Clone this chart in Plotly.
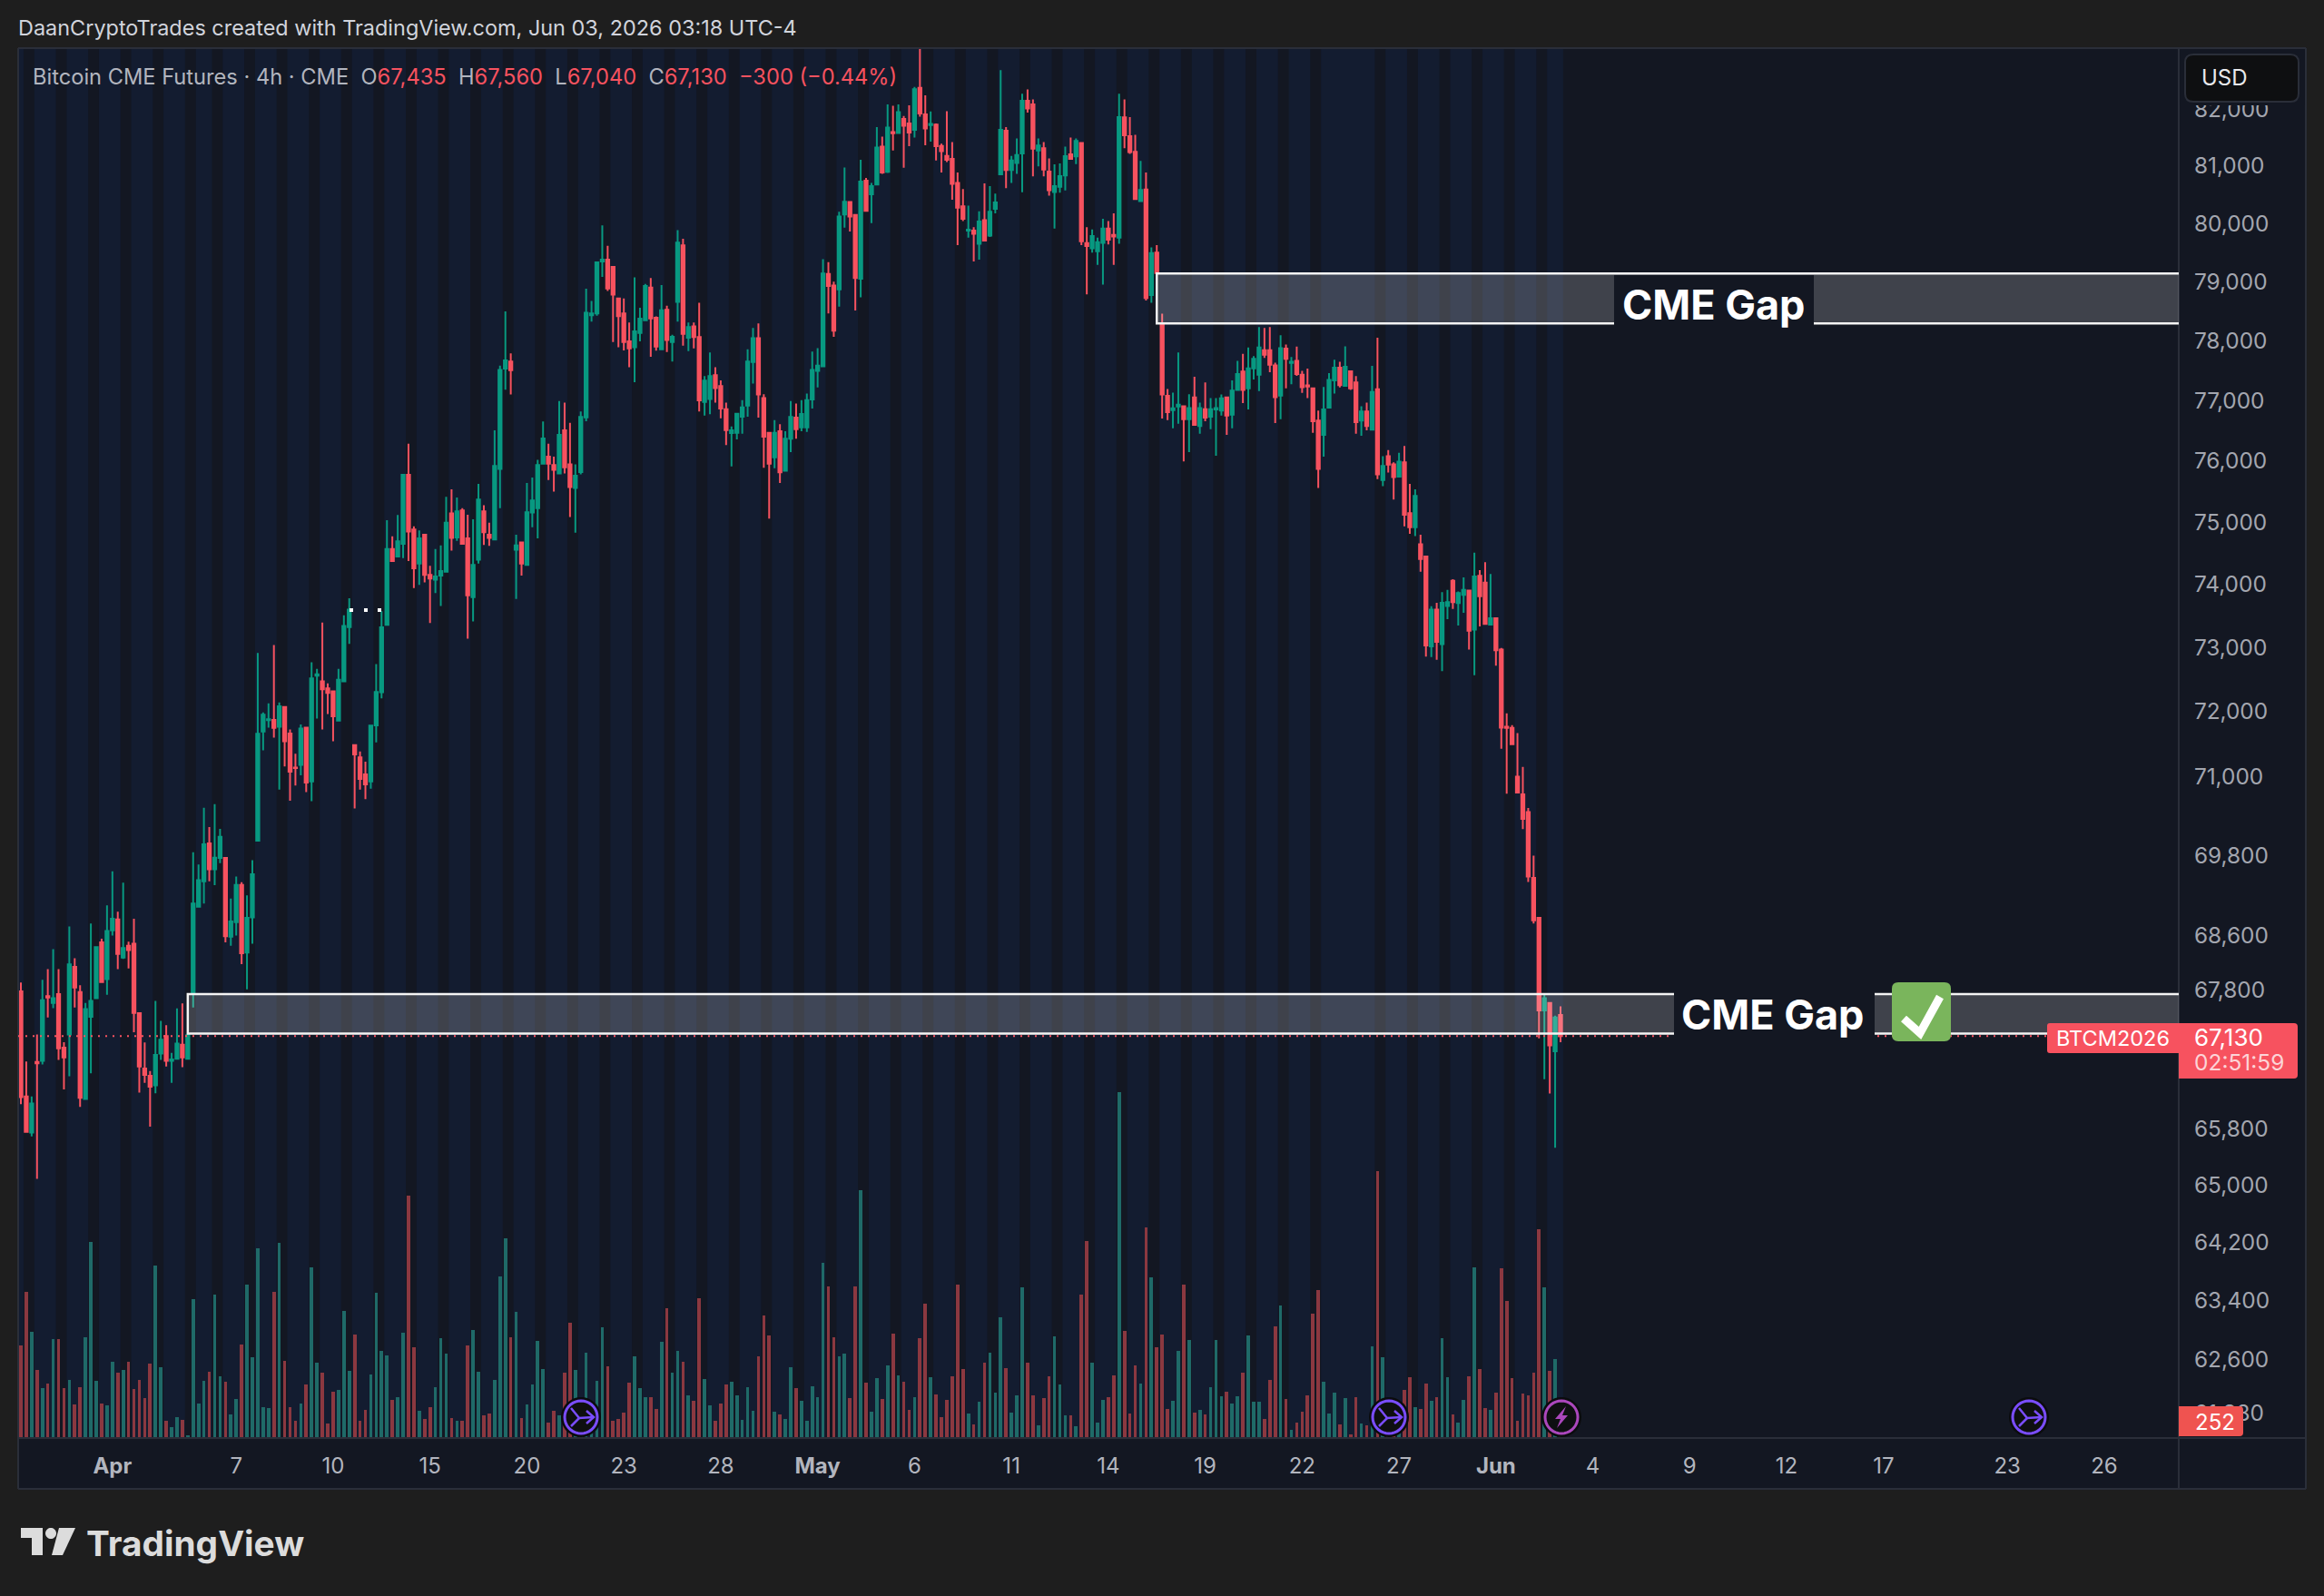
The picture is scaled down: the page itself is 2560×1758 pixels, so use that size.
import math
import plotly.graph_objects as go

# Bitcoin CME futures, 4h bars
opens = [
    67780, 66260, 65745, 66755, 66770, 67710, 67610, 67740, 66960, 67150,
    68140, 67770, 66225, 67410, 67680, 68500, 67960, 68680, 68840, 68275,
    68450, 68480, 67460, 66660, 66555, 66420, 66875, 67130, 66770, 66800,
    67005, 66800, 67740, 69030, 69410, 69980, 69590, 69760, 69760, 68585,
    68800, 69355, 68350, 68870, 70020, 71690, 71865, 71870, 71765, 72070,
    71660, 71135, 71175, 71750, 70920, 72560, 72470, 72360, 72315, 71860,
    72470, 73325, 71480, 71290, 71030, 70920, 71785, 72300, 73360, 74570,
    74450, 74655, 75775, 74885, 74335, 74800, 74155, 74080, 74145, 74205,
    75145, 74755, 75195, 74740, 73800, 74400, 75180, 74800, 74725, 75870,
    77530, 77650, 74560, 74675, 74315, 75160, 75230, 75955, 76070, 75935,
    75795, 76505, 75945, 75560, 75820, 76720, 78430, 78460, 79345, 79375,
    79250, 78715, 78460, 77990, 77890, 78130, 78345, 78900, 78385, 77855,
    78520, 77975, 78655, 79620, 78050, 78240, 78060, 76975, 77025, 77420,
    77240, 76855, 76460, 76465, 76730, 76915, 77640, 78040, 77040, 76465,
    76060, 76490, 75840, 76365, 76715, 76555, 76555, 77015, 77495, 77570,
    79130, 78935, 78870, 80155, 80370, 80145, 79050, 80740, 80505, 80675,
    81335, 80895, 81590, 81575, 81825, 81745, 81630, 82375, 81905, 81715,
    81725, 81350, 81175, 81120, 80700, 80295, 79875, 79875, 79650, 80055,
    79790, 80250, 80850, 81615, 80925, 81050, 81215, 82145, 82080, 81270,
    81310, 80900, 80545, 80635, 80830, 81200, 81165, 81400, 79660, 79570,
    79520, 79665, 79910, 79800, 79755, 81850, 81520, 81245, 80385, 80585,
    78770, 79495, 78290, 77075, 76840, 76900, 76905, 76690, 77050, 76575,
    76855, 76730, 76850, 76830, 77050, 76765, 77175, 77480, 77200, 77535,
    77430, 77840, 77840, 77585, 77080, 77865, 77625, 77660, 77430, 77250,
    77200, 76665, 76430, 76880, 77335, 77545, 77245, 77485, 77300, 76665,
    76815, 76515, 77185, 75690, 76080, 75945, 75745, 75980, 75150, 74920,
    74645, 74450, 73020, 73600, 73055, 73660, 74060, 73705, 73835, 73905,
    73285, 74140, 74030, 73365, 73465, 72970, 71765, 71745, 70995, 70725,
    70455, 69460, 68865, 67500, 67610, 66910, 67435,
]
highs = [
    67910, 66760, 66260, 67150, 67950, 68105, 68400, 68105, 67040, 68735,
    68265, 67870, 67610, 68780, 68430, 68555, 69050, 69560, 68955, 69390,
    68510, 68850, 67475, 67035, 66625, 67640, 67350, 67285, 66885, 67530,
    67605, 67170, 69845, 69660, 70520, 70225, 70575, 70200, 69770, 69150,
    69480, 69395, 69200, 69725, 72915, 71985, 72125, 73040, 72140, 72080,
    71720, 71345, 71800, 71760, 72770, 72665, 73395, 72440, 72320, 72665,
    73510, 73780, 71490, 71380, 71225, 71785, 72740, 73575, 75035, 74775,
    75120, 75780, 76285, 74935, 74870, 74805, 74300, 74570, 74630, 75415,
    75535, 75405, 75230, 75125, 75050, 75625, 75280, 74995, 76505, 77580,
    78495, 77785, 74800, 74680, 75640, 75730, 76020, 76650, 76285, 76070,
    76990, 76965, 76630, 75945, 76815, 78880, 78670, 79340, 79965, 79615,
    79255, 78720, 78715, 78305, 79075, 78555, 78960, 79060, 78410, 78940,
    78590, 78100, 79885, 79735, 78305, 78305, 78640, 77405, 77800, 77555,
    77335, 76965, 76570, 76785, 77005, 77855, 78215, 78290, 77105, 76470,
    76675, 76605, 76490, 76990, 76950, 77005, 77115, 77815, 77875, 79385,
    79335, 79000, 80200, 80970, 80375, 80155, 81105, 80790, 80700, 81680,
    81510, 82080, 82055, 82080, 81875, 82065, 82390, 83075, 82240, 81955,
    81745, 81390, 81960, 81415, 80885, 80595, 80305, 79935, 80210, 80695,
    80645, 80515, 82690, 81680, 81175, 81480, 82270, 82345, 82170, 81480,
    81415, 81130, 81025, 81040, 81335, 81495, 81480, 81405, 79935, 79895,
    79755, 80080, 80040, 80175, 82270, 82170, 81855, 81545, 81085, 80885,
    79585, 79625, 78455, 77190, 77130, 77800, 76915, 77105, 77395, 76965,
    77300, 77040, 77040, 77100, 77055, 77335, 77660, 77780, 77885, 77740,
    78230, 78215, 78230, 77630, 78090, 77935, 77725, 77900, 77495, 77530,
    77205, 76830, 77225, 77455, 77680, 77645, 77905, 77490, 77405, 76905,
    76965, 77575, 78050, 76080, 76180, 75980, 76135, 76245, 75625, 75535,
    74800, 74460, 73655, 73710, 73880, 73915, 74085, 73890, 74115, 73910,
    74510, 74230, 74360, 74170, 73480, 72995, 71970, 71790, 71665, 71145,
    70515, 69795, 68870, 67730, 67620, 67425, 67560,
]
lows = [
    66150, 65745, 65690, 65090, 66720, 67400, 67535, 66785, 66360, 66550,
    67545, 66110, 66220, 66590, 67675, 67910, 67730, 68600, 68105, 68255,
    68115, 67185, 66315, 66455, 65830, 66305, 66785, 66690, 66455, 66795,
    66680, 66800, 67545, 69030, 69075, 69410, 69350, 69680, 68500, 68450,
    68600, 68180, 67810, 68480, 70020, 71400, 71750, 71595, 70795, 71150,
    70625, 70860, 71015, 70760, 70620, 71890, 71720, 71960, 71540, 71860,
    72455, 73060, 70510, 70795, 70650, 70810, 71520, 72205, 73355, 74375,
    74435, 74425, 74375, 73945, 73995, 74035, 73390, 73865, 73660, 74205,
    74545, 74700, 74640, 73140, 73415, 74335, 74635, 74620, 74725, 75230,
    77180, 77100, 73770, 74145, 74315, 74920, 74740, 75955, 75690, 75500,
    75780, 75795, 75085, 74835, 75780, 76655, 78320, 78420, 79080, 78840,
    77975, 77890, 77835, 77555, 77305, 77990, 78345, 77730, 77830, 77845,
    77810, 77650, 78320, 77915, 77825, 77870, 76815, 76750, 76770, 76965,
    76705, 76260, 75910, 76355, 76450, 76730, 77280, 76715, 75890, 75060,
    75880, 75640, 75840, 76145, 76365, 76490, 76480, 76865, 77215, 77570,
    78460, 78065, 78575, 79925, 79860, 78510, 78735, 80215, 80005, 80675,
    80860, 80875, 81270, 81575, 80965, 81345, 81495, 81865, 81360, 81425,
    81095, 80885, 81065, 80410, 79625, 80040, 79755, 79345, 79375, 79690,
    79765, 80175, 80850, 80610, 80700, 80860, 80540, 81935, 80815, 80990,
    80815, 80480, 79910, 80530, 80570, 81105, 81030, 79625, 78785, 79495,
    79285, 78950, 79635, 79285, 79650, 81310, 81210, 80410, 80385, 78680,
    78640, 79140, 76700, 76675, 76540, 76615, 75995, 76145, 76595, 76450,
    76655, 76525, 76085, 76750, 76430, 76540, 77175, 76955, 76850, 77350,
    77155, 77710, 77470, 76625, 76690, 77200, 77270, 77410, 77125, 77040,
    76465, 75560, 76070, 76880, 77115, 77215, 77230, 77175, 76450, 76415,
    76505, 76500, 75705, 75590, 75810, 75370, 75735, 74935, 74815, 74780,
    74205, 72860, 72850, 72810, 72630, 73450, 73610, 73350, 73550, 72970,
    72565, 73335, 73370, 73360, 72715, 71425, 70735, 71480, 70750, 70195,
    69400, 68780, 67095, 66505, 66300, 65530, 67040,
]
closes = [
    66250, 65755, 66160, 66735, 67650, 67690, 67680, 66950, 66820, 68175,
    67835, 66240, 67520, 67640, 68430, 67915, 68670, 68850, 68330, 68415,
    68385, 67465, 66690, 66570, 66400, 66855, 67075, 66770, 66790, 67020,
    66820, 67140, 69075, 69425, 69965, 69590, 69765, 70080, 68590, 68810,
    69355, 68340, 68865, 69515, 71655, 71950, 71880, 71745, 72080, 71540,
    71070, 71125, 71735, 70905, 72515, 72580, 72345, 72290, 71925, 72495,
    73340, 73600, 71335, 70960, 70875, 71780, 72305, 73320, 74570, 74375,
    74695, 75775, 74850, 74260, 74740, 74155, 74095, 74130, 74215, 74995,
    74750, 75180, 74655, 73830, 74315, 75370, 74840, 74750, 75920, 77510,
    77670, 77505, 74630, 74335, 75165, 75355, 75935, 76370, 75955, 75855,
    76430, 75895, 75575, 75760, 76725, 78470, 78460, 79330, 79375, 78885,
    78780, 78415, 77975, 77870, 78155, 78370, 78925, 78375, 77900, 78515,
    78010, 78065, 79670, 78115, 78230, 78060, 77000, 77330, 77405, 77205,
    76865, 76510, 76505, 76780, 76885, 77650, 78040, 77100, 76400, 75955,
    76465, 75815, 76365, 76725, 76525, 76775, 77005, 77510, 77580, 79140,
    78925, 78170, 80120, 80375, 80120, 79060, 80725, 80215, 80645, 81320,
    80885, 81670, 81570, 81945, 81705, 81585, 82350, 81920, 81655, 81735,
    81345, 81255, 81105, 80685, 80270, 80080, 79890, 79820, 80030, 79705,
    80200, 80360, 81630, 80925, 81095, 81190, 82145, 82010, 81300, 81355,
    80935, 80575, 80645, 80820, 81170, 81120, 81435, 79690, 79610, 79780,
    79675, 79910, 79720, 79775, 81855, 81535, 81240, 80420, 80580, 78720,
    79490, 79145, 77100, 76805, 76870, 76930, 76690, 76875, 76595, 76875,
    76715, 76855, 76875, 77035, 76750, 77165, 77440, 77175, 77535, 77695,
    77885, 77765, 77595, 77055, 77875, 77695, 77645, 77440, 77220, 77230,
    76655, 75870, 76850, 77340, 77545, 77255, 77560, 77200, 76640, 76815,
    76575, 77140, 75780, 75920, 75940, 75735, 75990, 75125, 74920, 75430,
    74410, 73035, 73600, 73090, 73710, 73720, 73720, 73865, 73915, 73265,
    74130, 73815, 73375, 73465, 72960, 71750, 71745, 71495, 70750, 70350,
    69480, 68825, 67500, 67680, 66995, 67400, 67130,
]
volumes = [
    2135, 3374, 2464, 1575, 1155, 1260, 2296, 2296, 1155, 1344,
    784, 1176, 2331, 4529, 1330, 791, 749, 1764, 1519, 1575,
    1764, 1134, 1344, 931, 1722, 3990, 1638, 399, 252, 476,
    420, 70, 3220, 805, 1330, 1533, 3311, 1428, 1309, 546,
    910, 2170, 3556, 1869, 4382, 707, 686, 3388, 4508, 1785,
    707, 406, 791, 1246, 3955, 1743, 1519, 343, 1078, 1120,
    2940, 1554, 2401, 406, 651, 1470, 3353, 2009, 1911, 875,
    938, 2443, 5607, 2093, 630, 448, 714, 1183, 2317, 1946,
    462, 406, 406, 2135, 2506, 1540, 525, 574, 1344, 3745,
    4627, 2338, 2919, 462, 770, 1246, 2254, 1603, 364, 630,
    525, 1519, 2674, 1575, 840, 1974, 630, 1330, 2569, 1659,
    406, 441, 588, 1281, 1890, 1155, 952, 952, 665, 2233,
    3003, 1519, 2016, 1771, 980, 854, 3227, 1372, 749, 406,
    791, 1246, 1309, 994, 427, 1183, 630, 1890, 2842, 2380,
    609, 546, 441, 1638, 1155, 868, 399, 1204, 952, 4053,
    3514, 2331, 1890, 1946, 931, 3514, 5726, 1288, 609, 1393,
    896, 1680, 2415, 1449, 1309, 651, 952, 2310, 3101, 1414,
    1015, 483, 875, 1428, 3556, 1596, 567, 315, 833, 1743,
    1981, 1057, 2793, 1617, 581, 994, 3486, 1743, 994, 294,
    931, 1435, 2352, 1239, 525, 525, 273, 3325, 4564, 1743,
    364, 889, 938, 1449, 7994, 2485, 567, 1680, 1260, 4872,
    3724, 2093, 2401, 665, 868, 2009, 3556, 2275, 581, 644,
    546, 1183, 2275, 973, 1078, 791, 973, 1519, 2373, 833,
    833, 441, 1351, 2590, 3066, 896, 189, 357, 609, 994,
    2884, 3430, 1309, 567, 1057, 315, 917, 91, 952, 336,
    301, 2114, 6181, 1869, 770, 630, 350, 1120, 1414, 714,
    672, 1267, 854, 938, 2310, 1414, 546, 364, 875, 1435,
    3955, 1596, 693, 651, 1057, 3934, 3164, 1393, 406, 1036,
    994, 1519, 4837, 3493, 1561, 1820, 252,
]
bar_index = list(range(len(closes)))

price_ticks = [82000, 81000, 80000, 79000, 78000, 77000, 76000, 75000, 74000, 73000, 72000,
               71000, 69800, 68600, 67800, 65800, 65000, 64200, 63400, 62600, 61880]
time_tick_bars = [17, 40, 58, 76, 94, 112, 130, 148, 166, 184, 202, 220, 238, 256, 274,
                  292, 310, 328, 346, 369, 387]
time_tick_text = ["<b>Apr</b>", "7", "10", "15", "20", "23", "28", "<b>May</b>", "6", "11", "14",
                  "19", "22", "27", "<b>Jun</b>", "4", "9", "12", "17", "23", "26"]

upper_gap = (79140, 78290)
lower_gap = (67740, 67165)
last_price = 67130

PAGE = "#1e1e1e"
PANE = "#131722"
SESSION = "#131c30"
EDGE = "#2a2e39"
UP = "#089981"
DOWN = "#f7525f"
VOL_UP = "#1f6a68"
VOL_DOWN = "#8b3840"
TEXT = "#b2b5be"
FONT = "Inter"

# Pane geometry on the page
PL, PR, PT, PB = 20, 2400, 53, 1584
W, H = 2560, 1758


def px(x):
    return (x - PL) / (PR - PL)


def py(y):
    return 1 - (y - PT) / (PB - PT)


def pt(x, y):
    return f"{px(x):.6f},{py(y):.6f}"


def path(points, close=False):
    d = "M" + " L".join(pt(x, y) for x, y in points)
    return d + (" Z" if close else "")


def round_rect(x0, y0, x1, y1, r=(5, 5, 5, 5)):
    tl, tr, br, bl = r
    return (f"M{pt(x0 + tl, y0)} L{pt(x1 - tr, y0)} Q{pt(x1, y0)} {pt(x1, y0 + tr)} "
            f"L{pt(x1, y1 - br)} Q{pt(x1, y1)} {pt(x1 - br, y1)} L{pt(x0 + bl, y1)} "
            f"Q{pt(x0, y1)} {pt(x0, y1 - bl)} L{pt(x0, y0 + tl)} Q{pt(x0, y0)} {pt(x0 + tl, y0)} Z")


def page_shape(d, fill=None, color=None, width=0, layer="above"):
    return dict(type="path", xref="paper", yref="paper", path=d, layer=layer,
                fillcolor=fill if fill else "rgba(0,0,0,0)",
                line=dict(color=color if color else "rgba(0,0,0,0)", width=width))


def page_rect(x0, y0, x1, y1, fill):
    return page_shape(path([(x0, y0), (x1, y0), (x1, y1), (x0, y1)], True), fill=fill)


def circle(cx, cy, r):
    return (f"M{pt(cx - r, cy)} "
            + " ".join(
                f"L{pt(cx + r * math.cos(math.radians(a)), cy + r * math.sin(math.radians(a)))}"
                for a in range(180, 540, 10))
            + " Z")


shapes = []

# Alternating session background behind the bars
dark_starts = [0.5 + 6 * k for k in range(6)] + [35.5 + 6 * k for k in range(42) if 35.5 + 6 * k != 245.5]
edges = [-0.5]
for s in dark_starts:
    edges += [s, s + 2]
edges.append(286.5)
for a, b in zip(edges[0::2], edges[1::2]):
    shapes.append(dict(type="rect", xref="x", yref="paper", x0=a, x1=b, y0=0, y1=1,
                       fillcolor=SESSION, line_width=0, layer="below"))

# Price and time panes with their frame
shapes.append(page_rect(PR, PT, 2540, 1640, PANE) | dict(layer="below"))
shapes.append(page_rect(PL, PB, PR, 1640, PANE) | dict(layer="below"))
for seg in ([(PL, PT), (2540, PT)], [(2540, PT), (2540, 1640)], [(2540, 1640), (PL, 1640)],
            [(PL, 1640), (PL, PT)], [(PR, PT), (PR, 1640)], [(PL, PB), (2540, PB)]):
    shapes.append(page_shape(path(seg), color=EDGE, width=2))

# CME gap zones, open to the right
for bar, (top, bottom) in [(211, upper_gap), (31, lower_gap)]:
    shapes.append(dict(type="rect", xref="x", yref="y", x0=bar, x1=600, y0=bottom, y1=top,
                       fillcolor="rgba(255,255,255,0.19)",
                       line=dict(color="#f4f4f4", width=2.5), layer="above"))

# Last price line
shapes.append(dict(type="line", xref="paper", yref="y", x0=0, x1=1, y0=last_price, y1=last_price,
                   line=dict(color=DOWN, width=2, dash="2px,6px"), layer="above"))

# Backing plates behind the gap labels
shapes.append(page_rect(1778, 303, 1998, 358, PANE))
shapes.append(page_rect(1844, 1090, 2065, 1146, PANE))

# Confirmation badge
shapes.append(page_shape(round_rect(2084, 1082, 2149, 1147, (7, 7, 7, 7)), fill="#7ab55c"))
shapes.append(page_shape(path([(2097, 1122), (2115, 1138), (2137, 1098)]), color="#ffffff", width=9))

# Labels on the price scale
shapes.append(page_shape(round_rect(2255, 1127, 2400, 1160, (3, 0, 0, 3)), fill=DOWN))
shapes.append(page_shape(round_rect(2400, 1127, 2531, 1188, (0, 4, 4, 0)), fill=DOWN))
shapes.append(page_shape(round_rect(2400, 1549, 2471, 1582, (0, 4, 4, 0)), fill="#ef5350"))

# Currency button with its clearing margin on the scale
shapes.append(page_rect(2402, 55, 2539, 116, PANE))
shapes.append(page_shape(round_rect(2407, 60, 2532, 112, (9, 9, 9, 9)), fill="#0e0f11", color=EDGE, width=2))

# Small dots beside the April rally
for dot_x in (387, 403, 418):
    shapes.append(page_rect(dot_x - 2, 670, dot_x + 2, 674, "#ffffff"))

# Event badges on the time scale
MERGE = "#7a4dff"
BOLT = "#ab47bc"
for cx in (640, 1530, 2235):
    shapes.append(page_shape(circle(cx, 1561, 19), fill="#0e0f11", color="#0b0c0e", width=6))
    shapes.append(page_shape(circle(cx, 1561, 18), fill="#0e0f11", color=MERGE, width=3))
    shapes.append(page_shape(path([(cx - 11, 1551), (cx - 2, 1562), (cx + 14, 1561)]), color=MERGE, width=2.5))
    shapes.append(page_shape(path([(cx - 11, 1571), (cx - 2, 1562)]), color=MERGE, width=2.5))
    shapes.append(page_shape(path([(cx + 6, 1554), (cx + 14, 1561), (cx + 6, 1568)]), color=MERGE, width=2.5))
cx = 1720
shapes.append(page_shape(circle(cx, 1561, 19), fill="#0e0f11", color="#0b0c0e", width=6))
shapes.append(page_shape(circle(cx, 1561, 18), fill="#0e0f11", color=BOLT, width=3))
shapes.append(page_shape(path([(cx + 5, 1549), (cx - 7, 1563), (cx - 1, 1563), (cx - 5, 1573),
                               (cx + 7, 1559), (cx + 1, 1559)], True), fill=BOLT))

# Footer logo
LOGO = "#dcdcdc"
shapes.append(page_shape(path([(23, 1683), (47, 1683), (47, 1713), (35, 1713), (35, 1694), (23, 1694)], True), fill=LOGO))
shapes.append(page_shape(circle(56, 1689, 6), fill=LOGO))
shapes.append(page_shape(path([(65, 1683), (83, 1683), (69, 1713), (57, 1713)], True), fill=LOGO))


def label(x, y, text, size=24, color=TEXT, anchor="left", family=FONT):
    return dict(xref="paper", yref="paper", x=px(x), y=py(y), text=text, showarrow=False,
                xanchor=anchor, yanchor="middle", align=anchor, borderpad=0,
                font=dict(family=family, size=size, color=color))


def red(s):
    return f'<span style="color:{DOWN}">{s}</span>'


legend_line = ("Bitcoin CME Futures · 4h · CME  O" + red("67,435") + "  H" + red("67,560")
               + "  L" + red("67,040") + "  C" + red("67,130") + "  " + red("−300 (−0.44%)"))

annotations = [
    label(19, 31, "DaanCryptoTrades created with TradingView.com, Jun 03, 2026 03:18 UTC-4", 23.45, "#d1d4dc"),
    label(35, 84, legend_line, 23.65),
    label(1887, 335, "<b>CME Gap</b>", 45, "#ffffff", "center"),
    label(1952, 1117, "<b>CME Gap</b>", 45, "#ffffff", "center"),
    label(2264, 1143, "BTCM2026", 23.5, "#ffffff"),
    label(2416, 1142, "67,130", 26, "#ffffff"),
    label(2416, 1170, "02:51:59", 24.5, "#fcd4d7"),
    label(2417, 1566, "252", 24, "#ffffff"),
    label(2424, 86, "USD", 24, "#e8e9ec"),
    label(94, 1699, "<b>TradingView</b>", 38.8, LOGO),
]

fig = go.Figure()
fig.add_trace(go.Bar(
    x=bar_index, y=volumes, yaxis="y2",
    marker=dict(color=[VOL_UP if c >= o else VOL_DOWN for o, c in zip(opens, closes)], line_width=0),
    width=0.62, hoverinfo="skip", showlegend=False,
))
fig.add_trace(go.Candlestick(
    x=bar_index, open=opens, high=highs, low=lows, close=closes,
    increasing=dict(line=dict(color=UP, width=2), fillcolor=UP),
    decreasing=dict(line=dict(color=DOWN, width=2), fillcolor=DOWN),
    whiskerwidth=0, hoverinfo="skip", showlegend=False,
))

fig.update_layout(
    width=W, height=H, autosize=False,
    paper_bgcolor=PAGE, plot_bgcolor=PANE,
    margin=dict(l=PL, r=W - PR, t=PT, b=H - PB, pad=0),
    showlegend=False, hovermode=False, boxgap=0.2, bargap=0,
    font=dict(family=FONT, size=24, color=TEXT),
    xaxis=dict(
        type="linear", range=[-0.506, 400.84], rangeslider=dict(visible=False),
        showgrid=False, zeroline=False, showline=False,
        tickmode="array", tickvals=time_tick_bars, ticktext=time_tick_text,
        ticks="outside", ticklen=9, tickcolor="rgba(0,0,0,0)",
        tickfont=dict(family=FONT, size=24, color=TEXT),
    ),
    yaxis=dict(
        type="log", side="right", range=[math.log10(61550), math.log10(83084)],
        showgrid=False, zeroline=False, showline=False, automargin=False,
        tickmode="array", tickvals=price_ticks, ticktext=[f"{p:,}" for p in price_ticks],
        ticks="outside", ticklen=11, tickcolor="rgba(0,0,0,0)",
        tickfont=dict(family=FONT, size=24.4, color="#a3a6af"),
    ),
    yaxis2=dict(overlaying="y", side="left", range=[0, 32150], visible=False, fixedrange=True),
    shapes=shapes,
    annotations=annotations,
)

fig.write_html("out.html", config=dict(displayModeBar=False))
